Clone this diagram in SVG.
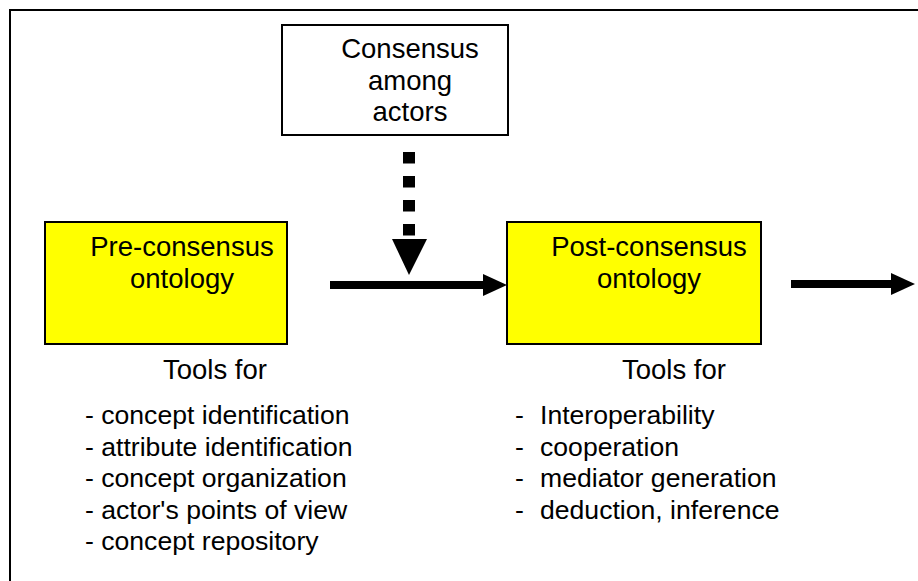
<svg xmlns="http://www.w3.org/2000/svg" width="918" height="581" viewBox="0 0 918 581">
<style>
text{font-family:"Liberation Sans",Arial,sans-serif;font-size:27.5px;fill:#000}
.c{text-anchor:middle}
.li{font-size:26.6px}
.box{stroke:#000;stroke-width:2}
.ont{fill:#ffff00}
</style>
<rect width="918" height="581" fill="#fff"/>
<path d="M10,581 V10 H918" fill="none" stroke="#000" stroke-width="2"/>
<g id="consensus">
<rect class="box" x="282" y="25" width="226" height="110" fill="#fff"/>
<text class="c" x="410" y="58">Consensus</text>
<text class="c" x="410" y="89.5">among</text>
<text class="c" x="410" y="121">actors</text>
</g>
<g id="pre">
<rect class="box ont" x="45" y="222" width="242" height="122"/>
<text class="c" x="182" y="256">Pre-consensus</text>
<text class="c" x="182" y="287.5">ontology</text>
</g>
<g id="post">
<rect class="box ont" x="507" y="222" width="254" height="122"/>
<text class="c" x="649" y="256">Post-consensus</text>
<text class="c" x="649" y="287.5">ontology</text>
</g>
<g id="pre-tools">
<text class="c" x="215" y="379">Tools for</text>
<text class="li" x="85" y="424">- concept identification</text>
<text class="li" x="85" y="455.5">- attribute identification</text>
<text class="li" x="85" y="487">- concept organization</text>
<text class="li" x="85" y="518.5">- actor's points of view</text>
<text class="li" x="85" y="550">- concept repository</text>
</g>
<g id="post-tools">
<text class="c" x="674" y="379">Tools for</text>
<text class="li" y="424"><tspan x="515">-</tspan><tspan x="540">Interoperability</tspan></text>
<text class="li" y="455.5"><tspan x="515">-</tspan><tspan x="540">cooperation</tspan></text>
<text class="li" y="487"><tspan x="515">-</tspan><tspan x="540">mediator generation</tspan></text>
<text class="li" y="518.5"><tspan x="515">-</tspan><tspan x="540">deduction, inference</tspan></text>
</g>
<g id="connectors">
<line x1="330" y1="285" x2="485" y2="285" stroke="#000" stroke-width="8"/>
<polygon points="483,274 507,285 483,296" fill="#000"/>
<line x1="791" y1="284" x2="893" y2="284" stroke="#000" stroke-width="8"/>
<polygon points="891,273 915,284 891,295" fill="#000"/>
<line x1="409" y1="152" x2="409" y2="240" stroke="#000" stroke-width="12" stroke-dasharray="11.5 12.5"/>
<polygon points="392,239 427,239 409,275" fill="#000"/>
</g>
</svg>
